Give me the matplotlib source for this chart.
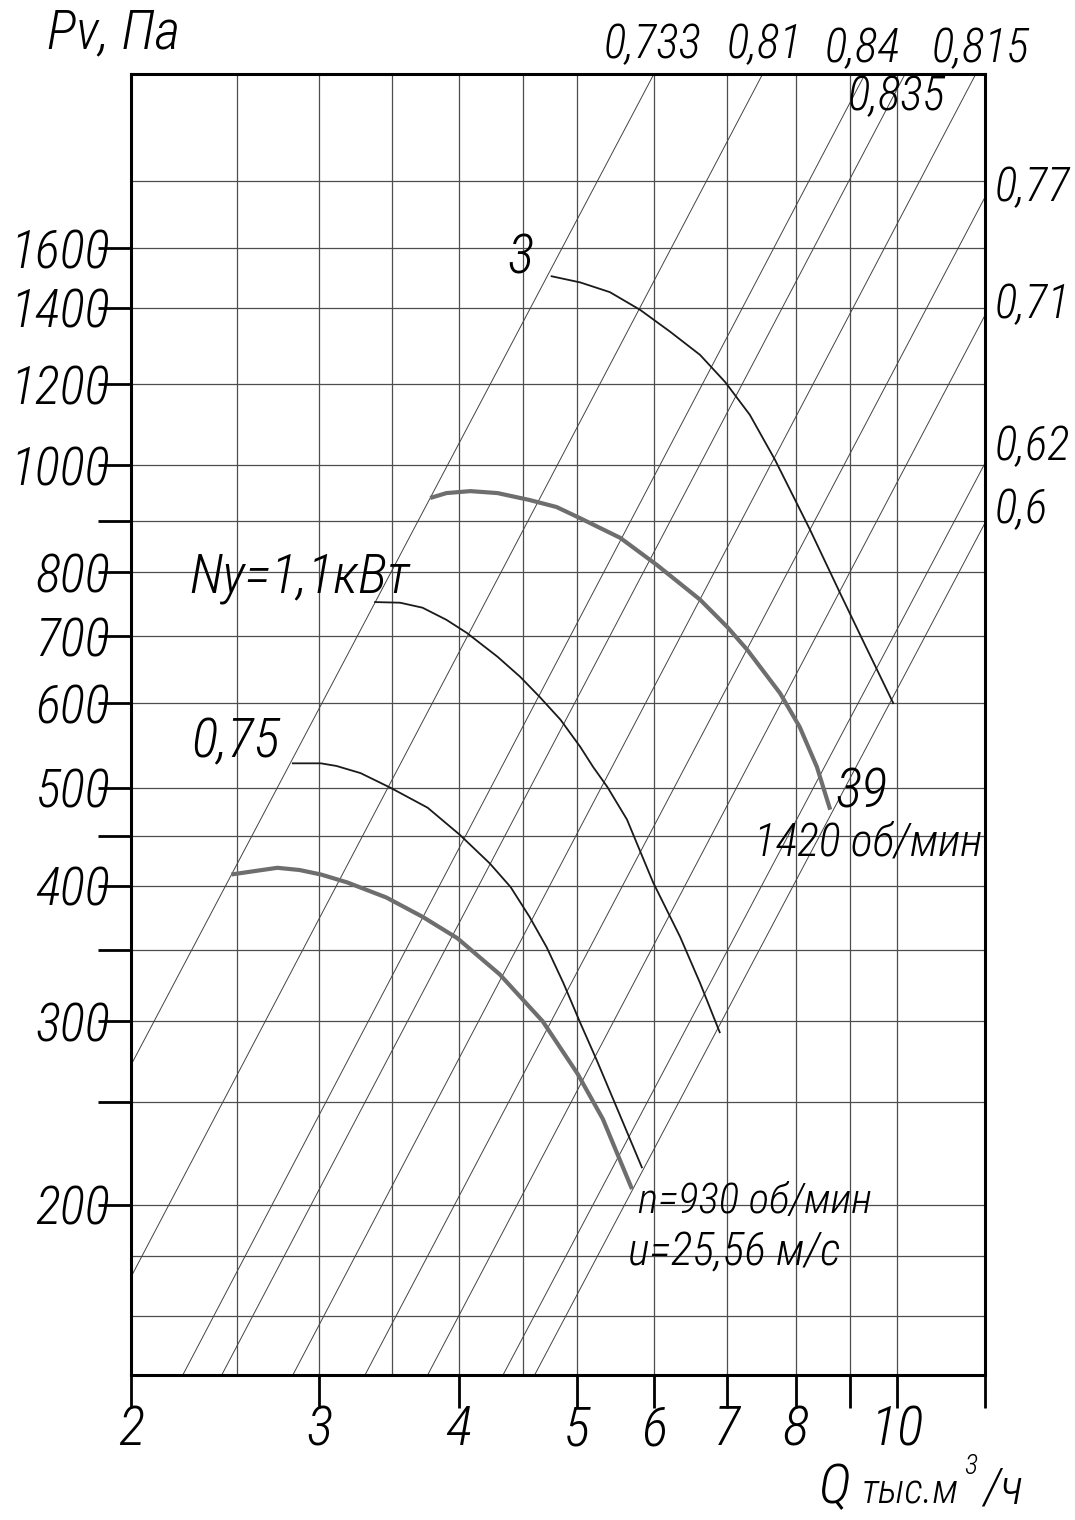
import matplotlib
matplotlib.use('Agg')
import matplotlib.pyplot as plt
from matplotlib import font_manager
from matplotlib.ticker import NullFormatter

W, H = 1075, 1520

# fan curves: Q in thousand m3/h, Pv in Pa
Q_3 = [4.84, 5.14, 5.47, 5.83, 6.21, 6.61, 6.97, 7.34, 7.74, 8.33, 8.87, 9.35, 9.92]
P_3 = [1504, 1484, 1453, 1398, 1333, 1268, 1195, 1113, 1009, 867, 756, 675, 595]

Q_39 = [3.75, 3.88, 4.08, 4.32, 4.62, 4.89, 5.14, 5.59, 6.04, 6.61, 7.00, 7.30,
        7.82, 8.15, 8.45, 8.69]
P_39 = [929, 939, 943, 939, 925, 911, 889, 852, 803, 745, 702, 668,
        608, 565, 518, 472]

Q_NY = [3.34, 3.52, 3.69, 3.88, 4.05, 4.32, 4.53, 4.72, 4.93, 5.14, 5.28, 5.44,
        5.67, 5.99, 6.34, 6.61, 6.89]
P_NY = [741, 740, 732, 713, 693, 658, 630, 603, 574, 541, 518, 496,
        462, 403, 358, 324, 291]

Q_075 = [2.81, 2.98, 3.08, 3.24, 3.45, 3.73, 3.99, 4.25, 4.44, 4.62, 4.79, 4.96,
         5.14, 5.32, 5.55, 5.85]
P_075 = [522, 522, 519, 511, 495, 474, 447, 420, 399, 374, 350, 324,
         297, 274, 247, 217]

Q_930 = [2.47, 2.55, 2.72, 2.85, 2.98, 3.15, 3.42, 3.69, 3.97, 4.34, 4.75, 5.11,
         5.39, 5.73]
P_930 = [410, 412, 416, 414, 410, 403, 390, 374, 357, 330, 298, 266,
         241, 207]

# efficiency rays (start and end where they meet the frame)
EFF_LABELS = ['0,733', '0,81', '0,84', '0,835', '0,815', '0,77', '0,71', '0,62', '0,6']
RAY_Q0 = [2.0, 2.0, 2.23, 2.42, 2.81, 3.27, 3.73, 4.37, 4.67]
RAY_P0 = [271, 171, 138.2, 138.2, 138.2, 138.2, 138.2, 138.2, 138.2]
RAY_Q1 = [6.0, 7.54, 9.35, 10.17, 11.80, 12.03, 12.03, 12.03, 12.03]
RAY_P1 = [2334, 2334, 2334, 2334, 2334, 1786, 1382, 1002, 880]

# grid and ticks (positions as drawn on the sheet)
Q_GRID = [2.5, 2.97, 3.46, 3.98, 4.56, 5.1, 6.0, 7.0, 8.08, 9.06, 10.0]
Q_TICKS = [2.0, 2.97, 3.98, 5.1, 6.0, 7.0, 8.08, 10.0]
Q_TICKLABELS = ['2', '3', '4', '5', '6', '7', '8', '10']
Q_MINOR = [9.06, 12.03]

P_GRID = [1850, 1598, 1404, 1190, 998, 883, 791, 688, 595, 495, 446, 400,
          348, 298, 250, 200, 179, 157]
P_TICKS = [1598, 1404, 1190, 998, 791, 688, 595, 495, 400, 298, 200]
P_TICKLABELS = ['1600', '1400', '1200', '1000', '800', '700', '600', '500',
                '400', '300', '200']
P_MINOR = [883, 446, 348, 250]

Q_LIM = (2.0, 12.03)
P_LIM = (138.2, 2334)

available = {f.name for f in font_manager.fontManager.ttflist}
FONT = 'DejaVu Sans'
for cand in ['Roboto Condensed', 'PT Sans Narrow', 'Liberation Sans Narrow', 'Fira Sans Condensed']:
    if cand in available:
        FONT = cand
        break
plt.rcParams['font.family'] = [FONT, 'DejaVu Sans']
plt.rcParams['font.style'] = 'italic'
plt.rcParams['font.weight'] = 'light'

fig = plt.figure(figsize=(W / 100, H / 100), dpi=100)
ax = fig.add_axes([131 / W, 1 - 1375 / H, (985 - 131) / W, (1375 - 74) / H])
ax.set_xscale('log')
ax.set_yscale('log')
ax.set_xlim(*Q_LIM)
ax.set_ylim(*P_LIM)

for q in Q_GRID:
    ax.axvline(q, color='#4d4d4d', lw=0.9, zorder=1)
for p in P_GRID:
    ax.axhline(p, color='#4d4d4d', lw=0.9, zorder=1)

for q0, p0, q1, p1 in zip(RAY_Q0, RAY_P0, RAY_Q1, RAY_P1):
    ax.plot([q0, q1], [p0, p1], color='#444444', lw=0.7, zorder=2)

thin = dict(color='#1a1a1a', lw=1.3, zorder=3, solid_joinstyle='round')
thick = dict(color='#6e6e6e', lw=3.0, zorder=3, solid_capstyle='butt',
             solid_joinstyle='round')
ax.plot(Q_3, P_3, **thin)
ax.plot(Q_NY, P_NY, **thin)
ax.plot(Q_075, P_075, **thin)
ax.plot(Q_39, P_39, **thick)
ax.plot(Q_930, P_930, **thick)

# axes, ticks
for s in ax.spines.values():
    s.set_linewidth(2.2)
ax.minorticks_off()
ax.set_xticks(Q_TICKS)
ax.set_xticklabels(Q_TICKLABELS)
ax.set_xticks(Q_MINOR, minor=True)
ax.set_yticks(P_TICKS)
ax.set_yticklabels(P_TICKLABELS)
ax.set_yticks(P_MINOR, minor=True)
ax.xaxis.set_minor_formatter(NullFormatter())
ax.yaxis.set_minor_formatter(NullFormatter())
ax.tick_params(axis='x', which='both', length=24, width=2.0, pad=-3.6,
               labelsize=40, direction='out')
ax.tick_params(axis='y', which='both', length=24, width=2.0, pad=-9,
               labelsize=38, direction='out')


def put(x, y, s, size, ha='center', va='center'):
    fig.text(x / W, 1 - y / H, s, fontsize=size, ha=ha, va=va)


# efficiency labels
put(653, 45, EFF_LABELS[0], 34)
put(764, 45, EFF_LABELS[1], 34)
put(862, 49, EFF_LABELS[2], 34)
put(897, 97, EFF_LABELS[3], 34)
put(981, 49, EFF_LABELS[4], 34)
put(995, 188, EFF_LABELS[5], 34, ha='left')
put(995, 305, EFF_LABELS[6], 34, ha='left')
put(995, 447, EFF_LABELS[7], 34, ha='left')
put(995, 510, EFF_LABELS[8], 34, ha='left')

# curve captions
put(47, 48, 'Pv, Па', 40, ha='left', va='baseline')
put(521, 258, '3', 40)
put(300, 577, 'Ny=1,1кВт', 40)
put(236, 742, '0,75', 40)
put(862, 792, '39', 40)
put(868, 842, '1420 об/мин', 33)
put(638, 1202, 'n=930 об/мин', 31, ha='left')
put(628, 1252, 'u=25,56 м/с', 33, ha='left')

# axis caption
put(818, 1503, 'Q', 40, ha='left', va='baseline')
put(862, 1503, 'тыс.м', 30, ha='left', va='baseline')
put(964, 1466, '3', 20, ha='left')
put(983, 1503, '/ч', 36, ha='left', va='baseline')

fig.savefig('out.png', dpi=100)
